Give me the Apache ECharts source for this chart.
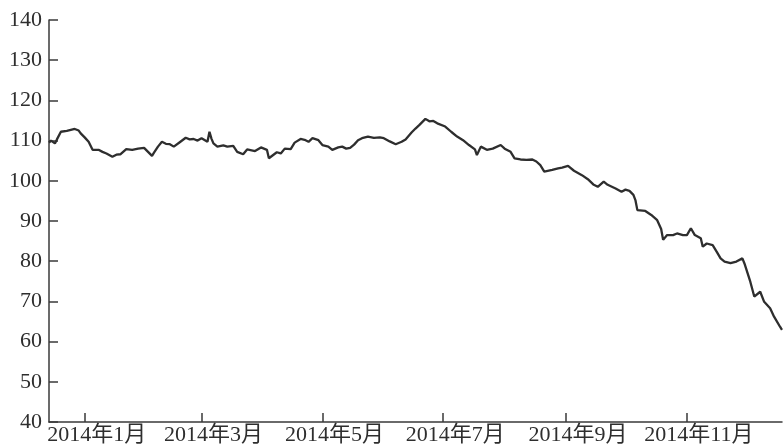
<!DOCTYPE html>
<html><head><meta charset="utf-8">
<script src="https://cdn.jsdelivr.net/npm/echarts@6/dist/echarts.min.js"></script>
<style>html,body{margin:0;padding:0;background:#fff}#c{width:784px;height:447px}</style>
</head><body><div id="c"></div>
<script>
// x: day index relative to 2014-01-01 (0 = 1 Jan 2014)
const dayOf2014 = [-18,-17,-15,-14,-12,-9,-5,-3,-2,0,2,4,7,9,11,14,16,18,21,24,27,30,32,34,35,37,39,41,43,45,48,51,53,55,57,59,62,63,64,65,67,70,72,75,77,80,82,86,89,92,93,97,99,101,104,106,109,111,113,115,118,120,123,125,128,130,132,134,136,138,140,143,146,149,151,154,157,160,162,163,165,167,169,172,174,176,178,182,185,188,191,194,197,198,200,203,206,210,212,215,217,220,223,226,228,230,232,236,239,241,244,247,251,254,257,259,262,264,268,271,273,275,277,278,279,283,286,289,291,292,294,297,299,302,304,306,308,311,312,314,317,319,321,323,326,329,332,333,336,338,341,343,346,348,351,352];
const price = [109.5,110.0,109.3,110.3,112.2,112.4,112.9,112.5,111.8,110.8,109.7,107.7,107.7,107.2,106.8,106.0,106.5,106.6,107.9,107.7,108.0,108.2,107.2,106.2,107.0,108.5,109.7,109.2,109.1,108.5,109.6,110.7,110.3,110.4,110.0,110.6,109.7,112.2,110.5,109.3,108.5,108.8,108.5,108.7,107.2,106.6,107.8,107.4,108.3,107.7,105.6,107.1,106.8,108.0,107.9,109.5,110.4,110.2,109.7,110.6,110.1,108.9,108.5,107.7,108.3,108.5,108.0,108.2,109.0,110.1,110.6,111.0,110.7,110.8,110.6,109.8,109.1,109.7,110.3,110.6,112.0,113.0,113.9,115.4,114.8,114.9,114.3,113.5,112.2,111.0,110.1,108.9,107.8,106.4,108.5,107.7,108.0,108.9,108.0,107.2,105.6,105.3,105.2,105.3,104.8,103.9,102.3,102.7,103.1,103.3,103.7,102.5,101.4,100.4,99.0,98.5,99.8,99.0,98.1,97.3,97.8,97.5,96.5,95.2,92.7,92.5,91.5,90.2,88.0,85.3,86.5,86.5,86.9,86.5,86.5,88.2,86.5,85.7,83.6,84.4,84.0,82.4,80.7,79.9,79.5,79.9,80.7,79.5,74.9,71.2,72.4,69.9,68.3,66.2,63.7,62.9];
const tickDays = [0, 59, 120, 181, 243, 304];
const tickLabels = ['2014年1月','2014年3月','2014年5月','2014年7月','2014年9月','2014年11月'];
const yMin = 40, yMax = 140, yStep = 10;
const xMin = -18, xMax = 352;

const seriesData = dayOf2014.map((d, i) => [d, price[i]]);
const labelMap = {};
tickDays.forEach((d, i) => { labelMap[d] = tickLabels[i]; });

const textColor = '#2e2e2e';
const fontFam = '"Liberation Serif","DejaVu Serif","Noto Sans CJK SC",serif';
const chart = echarts.init(document.getElementById('c'), null, {renderer: 'canvas'});
chart.setOption({
  backgroundColor: '#ffffff',
  animation: false,
  grid: {left: 49, right: 2, top: 20, bottom: 25, containLabel: false},
  xAxis: {
    type: 'value', min: xMin, max: xMax,
    splitLine: {show: false},
    axisLine: {show: true, onZero: false, lineStyle: {color: '#3a3a3a', width: 1.5}},
    axisTick: {show: true, inside: true, length: 9, customValues: tickDays, lineStyle: {color: '#3a3a3a', width: 1.5}},
    axisLabel: {
      show: true, customValues: tickDays, margin: 2, color: textColor,
      fontFamily: fontFam, fontSize: 22, padding: [0, 0, 0, 24],
      formatter: v => labelMap[v] || ''
    }
  },
  yAxis: {
    type: 'value', min: yMin, max: yMax, interval: yStep,
    splitLine: {show: false},
    axisLine: {show: true, onZero: false, lineStyle: {color: '#3a3a3a', width: 1.5}},
    axisTick: {show: true, inside: true, length: 9, lineStyle: {color: '#3a3a3a', width: 1.5}},
    axisLabel: {margin: 7, color: textColor, fontFamily: fontFam, fontSize: 22}
  },
  series: [{
    type: 'line', data: seriesData, showSymbol: false, symbol: 'none',
    lineStyle: {color: '#2e2e2e', width: 2.3}, smooth: false
  }]
});
</script></body></html>
